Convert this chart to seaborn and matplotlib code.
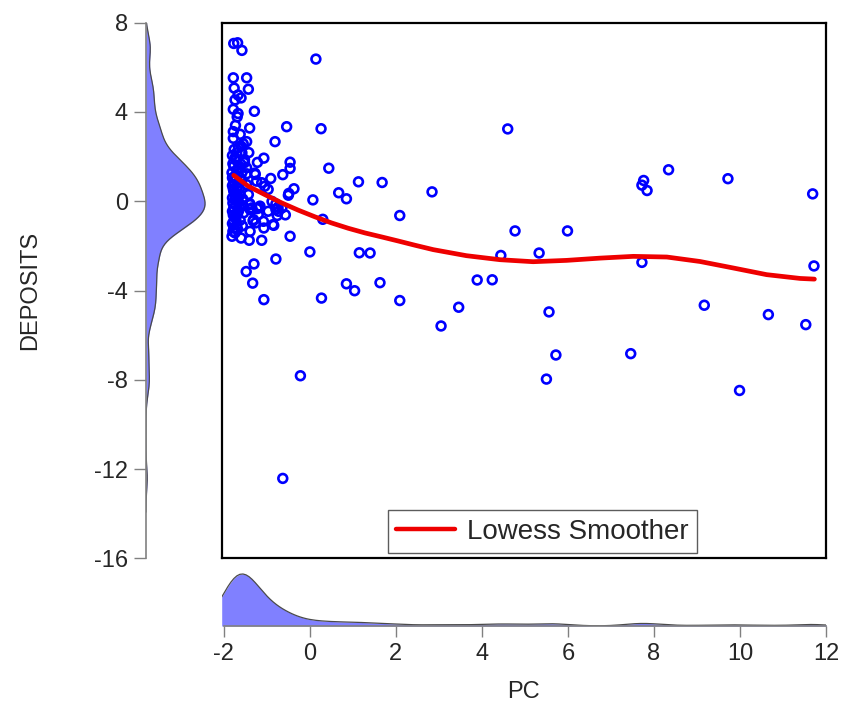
import numpy as np
import pandas as pd
import matplotlib
matplotlib.use("Agg")
import matplotlib.pyplot as plt
import seaborn as sns
from matplotlib.lines import Line2D

pc = [-1.77, -1.68, -1.58, 0.14,
      -1.78, -1.47, -1.76, -1.43, -1.67, -1.60, -1.74, -1.78, -1.29, -1.67, -1.69, -1.73,
      -1.40, -0.54, 0.26, -1.78, -1.62, -1.78, -1.47, -1.55, -1.60, -0.81, -1.76, -1.66,
      -1.70, -1.58, -1.42, -1.74, -1.07, -1.52, -1.54, -1.22, -1.52, -0.46, -0.46, 0.44,
      -1.77, -1.66, -1.47, -1.81, -1.58, -1.28, -1.47, -1.27, -0.63, -1.74, -0.91, 1.13,
      1.68, -1.77, -1.24, -1.66, -1.12, -1.47, -1.05, -0.97, -0.37, 0.67, -0.49, -1.77,
      -1.62, -1.43, -0.50, -1.74, 0.85, 0.07, -1.74, -1.70, -0.88, -1.66, -1.40, -0.79,
      -1.39, -1.16, -0.74, -1.77, -1.35, -1.19, -0.65, -1.23, -0.79, -1.39, -1.66, -0.97,
      -0.73, -1.54, -1.20, -0.57, -0.76, 2.09, -1.74, 0.30, -1.31, -1.32, -1.77, -1.08,
      -1.26, -0.86, -1.70, -0.84, -1.07, -1.77, 4.77, 5.99, -1.39, -1.74, -0.46, -1.81,
      -1.60, -1.41, -1.12, 0.00, 1.15, 1.40, 5.33, 4.44, -0.79, 7.72, -1.30, 11.72,
      -1.48, 3.89, 4.24, -1.33, 1.63, 0.85, 1.04, 0.27, 2.09, -1.07, 9.17, 3.46,
      5.56, 10.66, 11.53, 3.05, 5.72, 7.46, -0.22, 5.50, 9.99, -0.63,
      2.84, 4.60, 7.76, 7.72, 7.84, 8.34, 9.72, 11.69,
      -1.80, -1.72, -1.79, -1.70, -1.80, -1.72, -1.80, -1.69, -1.78, -1.72, -1.80, -1.67,
      -1.79, -1.72, -1.80, -1.69, -1.78, -1.72, -1.80, -1.68, -1.79, -1.64, -1.62, -1.64,
      -1.62, -1.60, -1.58, -1.56, -1.55, -1.57]
deposits = [7.07, 7.10, 6.76, 6.37,
            5.53, 5.53, 5.07, 5.02, 4.76, 4.63, 4.54, 4.12, 4.03, 3.93, 3.78, 3.40,
            3.28, 3.34, 3.25, 3.12, 3.00, 2.82, 2.67, 2.58, 2.47, 2.67, 2.32, 2.40,
            2.17, 2.17, 2.18, 1.95, 1.93, 1.87, 1.80, 1.74, 1.73, 1.75, 1.47, 1.48,
            1.57, 1.50, 1.50, 1.28, 1.28, 1.26, 1.23, 1.20, 1.19, 1.12, 1.02, 0.87,
            0.84, 0.90, 0.90, 0.83, 0.83, 0.75, 0.67, 0.53, 0.56, 0.38, 0.35, 0.45,
            0.30, 0.30, 0.27, 0.22, 0.11, 0.06, 0.08, 0.00, -0.01, -0.07, -0.10, -0.12,
            -0.15, -0.22, -0.27, -0.30, -0.30, -0.30, -0.30, -0.33, -0.37, -0.37, -0.45, -0.45,
            -0.45, -0.52, -0.60, -0.61, -0.64, -0.64, -0.67, -0.81, -0.82, -0.88, -0.90, -0.90,
            -0.97, -1.05, -1.05, -1.08, -1.20, -1.20, -1.33, -1.33, -1.35, -1.42, -1.57, -1.57,
            -1.65, -1.75, -1.75, -2.27, -2.31, -2.32, -2.32, -2.43, -2.59, -2.74, -2.81, -2.90,
            -3.15, -3.53, -3.52, -3.67, -3.65, -3.70, -4.01, -4.34, -4.45, -4.41, -4.66, -4.75,
            -4.96, -5.08, -5.53, -5.59, -6.89, -6.83, -7.82, -7.97, -8.48, -12.42,
            0.42, 3.24, 0.93, 0.72, 0.48, 1.41, 1.01, 0.33,
            2.05, 1.85, 1.68, 1.40, 1.05, 0.98, 0.70, 0.62, 0.55, 0.38, 0.15, 0.12,
            -0.08, -0.18, -0.45, -0.55, -0.62, -0.78, -1.00, -1.25, -1.35, 0.55, 1.05, -0.25,
            -0.85, 1.65, 0.95, 0.10, -0.20, -1.10]

# Lowess smoother
lowess_x = [-1.77, -1.43, -1.05, -0.66, -0.27, 0.12, 0.50, 0.89, 1.28, 1.67, 2.05, 2.44, 2.87,
            3.64, 4.42, 5.19, 5.97, 6.74, 7.52, 8.30, 9.07, 9.84, 10.62, 11.40, 11.73]
lowess_y = [1.16, 0.67, 0.30, -0.07, -0.40, -0.70, -0.97, -1.21, -1.42, -1.60, -1.78, -1.97, -2.17,
            -2.44, -2.62, -2.71, -2.65, -2.55, -2.47, -2.50, -2.70, -2.99, -3.29, -3.46, -3.49]

x_ticks = [-2, 0, 2, 4, 6, 8, 10, 12]
y_ticks = [8, 4, 0, -4, -8, -12, -16]

df = pd.DataFrame({"PC": pc, "DEPOSITS": deposits})

sns.set_style("white")
plt.rcParams['font.family'] = ['Liberation Sans', 'DejaVu Sans']

W, H = 845, 703
fig = plt.figure(figsize=(W / 100, H / 100), dpi=100)

def box(x0, y0, x1, y1):
    return [x0 / W, 1 - y1 / H, (x1 - x0) / W, (y1 - y0) / H]

ax_main = fig.add_axes(box(221.7, 22.7, 826, 558.3))
ax_left = fig.add_axes(box(146, 22.7, 212, 558.3))
ax_bot = fig.add_axes(box(221.7, 571, 826, 626))

xlim = (-2.05, 12.0)
ylim = (-16, 8)
fill_col = "#8080FF"
edge_col = "#4a4a4a"
gray = "#808080"
fs = 17

# scatter + lowess
sns.scatterplot(data=df, x="PC", y="DEPOSITS", ax=ax_main, marker="o",
                facecolor="none", edgecolor="#0000FF", linewidth=1.9, s=40, legend=False)
sns.lineplot(x=lowess_x, y=lowess_y, ax=ax_main, color="#EE0000", linewidth=3.4, sort=False,
             estimator=None)
ax_main.set_xlim(*xlim)
ax_main.set_ylim(*ylim)
ax_main.set_xticks([])
ax_main.set_yticks([])
ax_main.set_xlabel("")
ax_main.set_ylabel("")
for sp in ax_main.spines.values():
    sp.set_visible(True)
    sp.set_color("black")
    sp.set_linewidth(1.6)
leg = ax_main.legend(handles=[Line2D([], [], color="#EE0000", linewidth=3.2)],
                     labels=["Lowess Smoother"], loc="lower left", bbox_to_anchor=(0.275, 0.01),
                     fontsize=20, frameon=True, fancybox=False, handlelength=2.1,
                     handletextpad=0.45, borderpad=0.3, borderaxespad=0)
leg.get_frame().set_edgecolor("#333333")
leg.get_frame().set_linewidth(1.0)

# left marginal density (DEPOSITS)
bw_y = 0.5
sns.kdeplot(data=df, y="DEPOSITS", ax=ax_left, fill=True, color=fill_col, alpha=1,
            bw_adjust=bw_y, clip=(-14.0, 8), linewidth=0)
sns.kdeplot(data=df, y="DEPOSITS", ax=ax_left, fill=False, color=edge_col,
            bw_adjust=bw_y, clip=(-14.0, 8), linewidth=0.9)
ax_left.set_ylim(*ylim)
peak = max(line.get_xdata().max() for line in ax_left.lines)
ax_left.set_xlim(0, peak * (66 / 59))
ax_left.set_xticks([])
ax_left.set_yticks(y_ticks)
ax_left.set_yticklabels([str(t) for t in y_ticks], fontsize=fs)
ax_left.tick_params(axis="y", length=9, width=1, color=gray, pad=4, left=True)
for side in ["top", "right", "bottom"]:
    ax_left.spines[side].set_visible(False)
ax_left.spines["left"].set_color(gray)
ax_left.spines["left"].set_linewidth(1.2)
ax_left.spines["left"].set_bounds(-16, 8)
ax_left.set_xlabel("")
ax_left.set_ylabel("DEPOSITS", fontsize=fs, labelpad=38)
ax_left.patch.set_alpha(0)

# bottom marginal density (PC)
bw_x = 0.35
sns.kdeplot(data=df, x="PC", ax=ax_bot, fill=True, color=fill_col, alpha=1,
            bw_adjust=bw_x, clip=xlim, linewidth=0)
sns.kdeplot(data=df, x="PC", ax=ax_bot, fill=False, color=edge_col,
            bw_adjust=bw_x, clip=xlim, linewidth=0.9)
ax_bot.set_xlim(*xlim)
peak_b = max(line.get_ydata().max() for line in ax_bot.lines)
ax_bot.set_ylim(0, peak_b * (55 / 52))
ax_bot.set_yticks([])
ax_bot.set_xticks(x_ticks)
ax_bot.set_xticklabels([str(t) for t in x_ticks], fontsize=fs)
ax_bot.tick_params(axis="x", length=8, width=1, color=gray, pad=4, bottom=True)
for side in ["top", "right", "left"]:
    ax_bot.spines[side].set_visible(False)
ax_bot.spines["bottom"].set_color(gray)
ax_bot.spines["bottom"].set_linewidth(1.2)
ax_bot.spines["bottom"].set_bounds(-2, 12)
ax_bot.set_ylabel("")
ax_bot.set_xlabel("PC", fontsize=fs, labelpad=12)
ax_bot.patch.set_alpha(0)

fig.savefig("out.png", dpi=100)
